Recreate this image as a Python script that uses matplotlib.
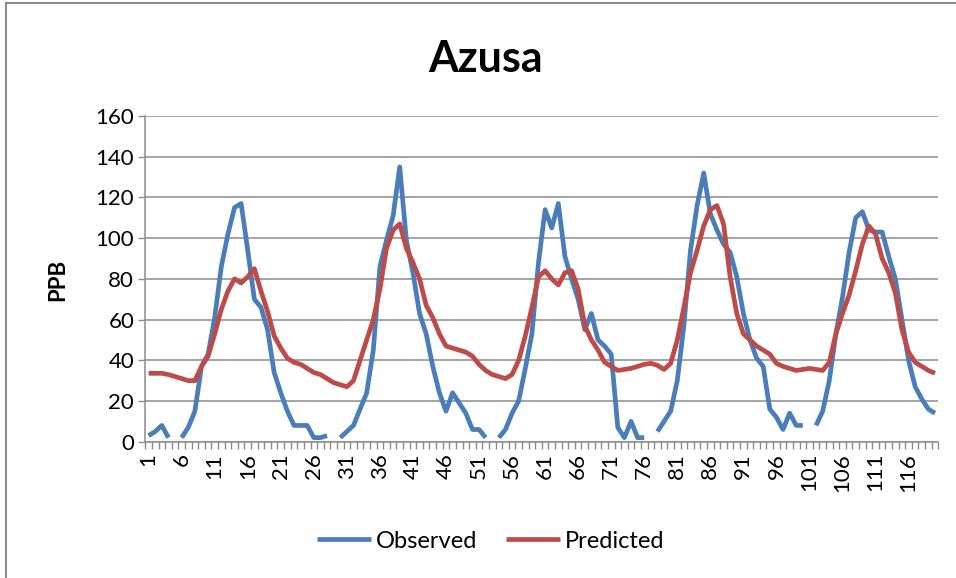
import numpy as np
import matplotlib.pyplot as plt

plt.rcParams['font.family'] = ['Lato', 'DejaVu Sans']

# Data (monthly values, 120 periods)
observed = [
    3, 5, 8, 2, np.nan, 2, 7, 15, 37, 43,
    61, 86, 102, 115, 117, 94, 70, 66, 55, 34,
    24, 15, 8, 8, 8, 2, 2, 3, np.nan, 2,
    5, 8, 16, 24, 45, 86, 99, 111, 135, 99,
    83, 63, 53, 37, 24, 15, 24, 19, 14, 6,
    6, 2, np.nan, 2, 6, 14, 20, 36, 53, 88,
    114, 105, 117, 91, 80, 70, 55, 63, 50, 47,
    43, 7, 2, 10, 2, 2, np.nan, 5, 10, 15,
    30, 57, 94, 116, 132, 112, 104, 97, 93, 81,
    63, 50, 41, 37, 16, 12, 6, 14, 8, 8,
    np.nan, 8, 15, 30, 53, 71, 93, 110, 113, 104,
    103, 103, 91, 80, 60, 40, 27, 21, 16, 14,
]

predicted = [
    33.6, 33.6, 33.6, 33, 32, 31, 30, 30, 37, 42,
    53, 65, 74, 80, 78, 81, 85, 74, 64, 52,
    46, 41, 39, 38, 36, 34, 33, 31, 29, 28,
    27, 30, 40, 50, 60, 75, 95, 104, 107, 95,
    88, 80, 67, 61, 53, 47, 46, 45, 44, 42,
    38, 35, 33, 32, 31, 33, 40, 52, 66, 81,
    84, 80, 77, 83, 84, 75, 57, 50, 45, 39,
    37, 35, 35.5, 36, 37, 38, 38.5, 37.5, 35.5, 38.5,
    50, 66, 83, 94, 106, 114, 116, 107, 81, 63,
    53, 50, 47, 45, 43, 38.5, 37, 36, 35, 35.5,
    36, 35.5, 35, 39, 53, 63, 72, 84, 97, 106,
    102, 90, 83, 73, 55, 44, 39, 37, 35, 33.6,
]

periods = np.arange(1, len(observed) + 1)
label_ticks = np.arange(1, len(observed) + 1, 5)
y_ticks = np.arange(0, 161, 20)

blue = "#4A7EBB"
red = "#BE4B48"
grid_gray = "#8C8C8C"

fig = plt.figure(figsize=(9.56, 5.78), dpi=100)
ax = fig.add_axes([0.152, 0.2358, 0.8295, 0.5635])

ax.plot(periods, observed, color=blue, lw=3.4, label="Observed",
        solid_capstyle="butt", solid_joinstyle="round")
ax.plot(periods, predicted, color=red, lw=3.4, label="Predicted",
        solid_capstyle="butt", solid_joinstyle="round")

ax.set_xlim(0.5, len(observed) + 0.5)
ax.set_ylim(0, 160)

# y axis
ax.set_yticks(y_ticks)
ax.yaxis.grid(True, color=grid_gray, lw=1.1)
ax.set_axisbelow(True)
ax.tick_params(axis="y", length=5, width=1, color=grid_gray,
               labelsize=16, pad=3)

# x axis: labels every 5th period, tick marks between every period
ax.set_xticks(label_ticks)
ax.set_xticklabels([str(v) for v in label_ticks], rotation=90)
ax.set_xticks(np.arange(0.5, len(observed) + 1), minor=True)
ax.tick_params(axis="x", which="major", length=0, labelsize=16, pad=8)
ax.tick_params(axis="x", which="minor", length=5, width=1, color=grid_gray)

for side in ["top", "right"]:
    ax.spines[side].set_visible(False)
for side in ["left", "bottom"]:
    ax.spines[side].set_color(grid_gray)
    ax.spines[side].set_linewidth(1.1)

fig.text(0.508, 0.875, "Azusa", ha="center", va="baseline",
         fontsize=31, fontweight="bold")
fig.text(0.06, 0.516, "PPB", ha="center", va="center", rotation=90,
         fontsize=16, fontweight="bold")

fig.legend(loc="center", bbox_to_anchor=(0.513, 0.064), ncol=2,
           frameon=False, fontsize=17, handlelength=2.3,
           handletextpad=0.2, columnspacing=1.2)

# outer chart border (left and top edges visible)
fig.add_artist(plt.Line2D([0.006, 0.006], [0.0, 0.994], color="#8C8C8C", lw=1.5))
fig.add_artist(plt.Line2D([0.006, 1.0], [0.994, 0.994], color="#8C8C8C", lw=1.5))

plt.savefig("out.png", dpi=100)
